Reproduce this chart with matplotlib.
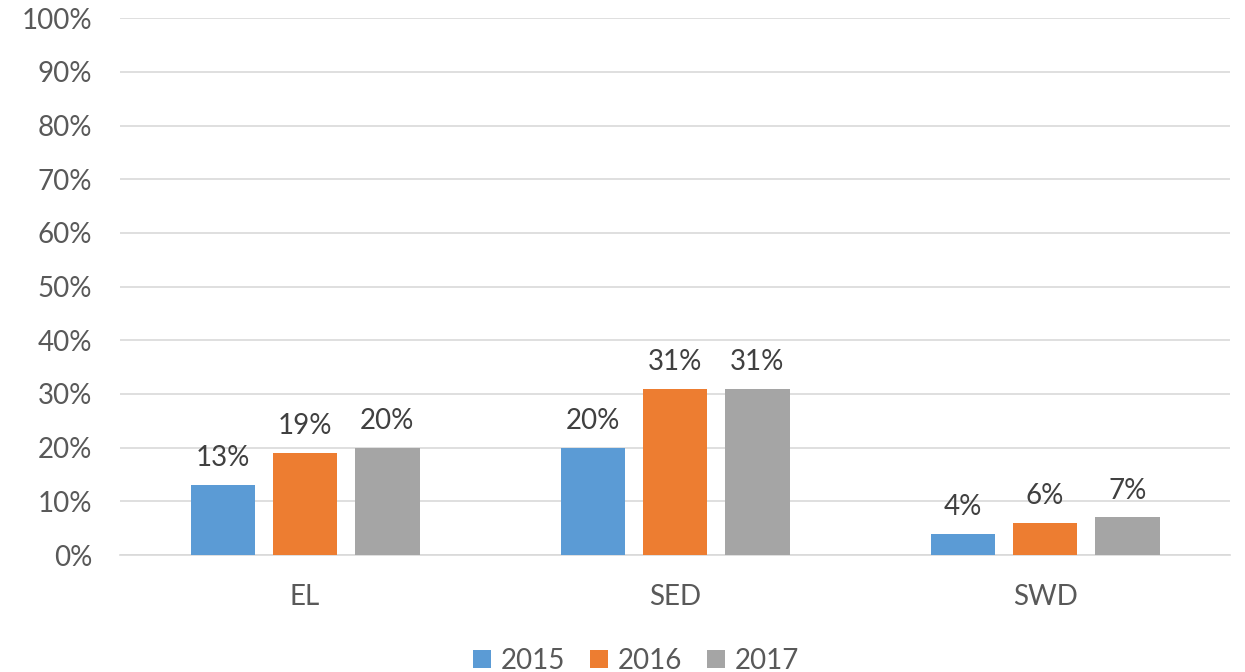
import matplotlib
matplotlib.use("Agg")
import matplotlib.pyplot as plt
import numpy as np

categories = ["EL", "SED", "SWD"]
years = ["2015", "2016", "2017"]
values_2015 = [13, 20, 4]
values_2016 = [19, 31, 6]
values_2017 = [20, 31, 7]
colors = ["#5B9BD5", "#ED7D31", "#A5A5A5"]
yticks = list(range(0, 101, 10))

plt.rcParams['font.family'] = ['Lato', 'DejaVu Sans']

fig = plt.figure(figsize=(12.45, 6.72), dpi=100)
ax = fig.add_axes([0.0964, 0.174, 0.8916, 0.799])

x = np.arange(len(categories))
width = 0.175
offset = 0.222
series = [values_2015, values_2016, values_2017]
for i, (vals, yr, c) in enumerate(zip(series, years, colors)):
    pos = x + (i - 1) * offset
    bars = ax.bar(pos, vals, width, color=c, label=yr, zorder=3)
    for b, v in zip(bars, vals):
        ax.annotate(f"{v}%", (b.get_x() + b.get_width() / 2, v),
                    xytext=(0, 10), textcoords="offset points",
                    ha="center", va="bottom", fontsize=20, color="#404040")

ax.set_xlim(-0.5, 2.5)
ax.set_ylim(0, 100)
ax.set_yticks(yticks)
ax.set_yticklabels([f"{t}%" for t in yticks], fontsize=20, color="#595959")
ax.set_xticks(x)
ax.set_xticklabels(categories, fontsize=20, color="#595959")
ax.tick_params(axis="y", length=0, pad=20)
ax.tick_params(axis="x", length=0, pad=21)
ax.yaxis.grid(True, color="#D9D9D9", linewidth=1.2, zorder=0)
for s in ["top", "right", "left"]:
    ax.spines[s].set_visible(False)
ax.spines["bottom"].set_color("#D9D9D9")
ax.spines["bottom"].set_linewidth(1.2)

leg = fig.legend(loc="lower center", bbox_to_anchor=(0.511, -0.04), ncol=3,
                 frameon=False, fontsize=20, handlelength=0.65, handleheight=0.65,
                 handletextpad=0.35, columnspacing=0.9)
for t in leg.get_texts():
    t.set_color("#595959")

fig.savefig("out.png", dpi=100)
